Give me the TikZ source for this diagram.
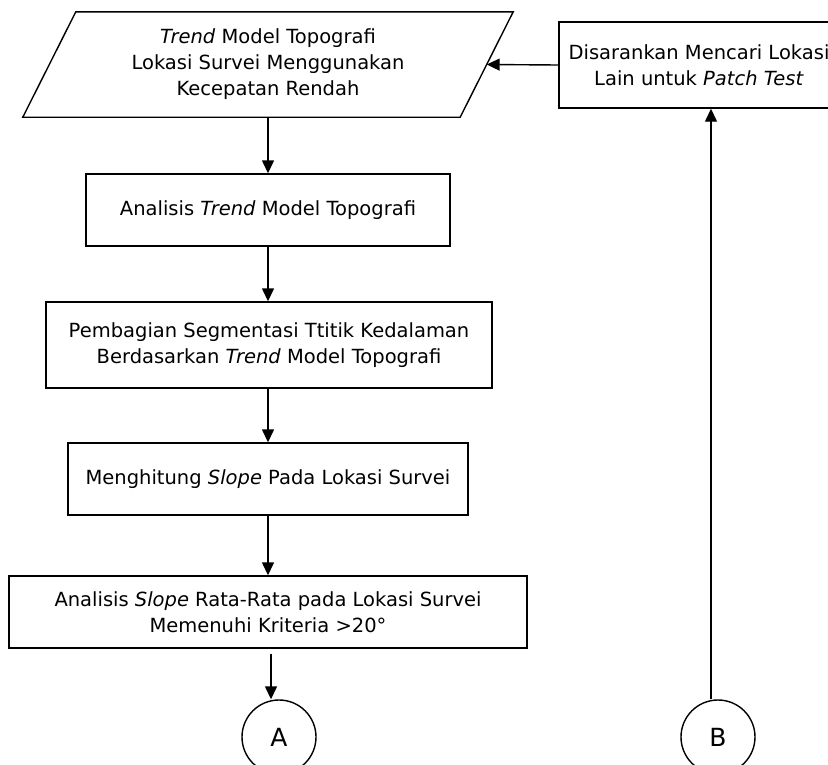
\documentclass[tikz,border=0pt]{standalone}
\usepackage{fontspec}
\setmainfont{DejaVu Sans}
\usetikzlibrary{arrows.meta,calc}
\tikzset{
  lw/.style={line width=1.4pt},
  txt/.style={font=\fontsize{19.5}{26}\selectfont, align=center, inner sep=0pt},
  box/.style={txt, draw, lw, rectangle},
  conn/.style={draw, circle, lw, minimum size=74pt, inner sep=0pt, font=\fontsize{25}{30}\selectfont},
  arr/.style={lw, -{Triangle[length=13pt,width=12pt]}}
}
\begin{document}
\begin{tikzpicture}[x=1pt,y=-1pt]
\useasboundingbox (0,0) rectangle (828,764);
% parallelogram (input/output)
\node[txt, minimum width=490pt, minimum height=105pt] (para) at (268,64.5)
  {\textit{Trend} Model Topografi\\Lokasi Survei Menggunakan\\Kecepatan Rendah};
\draw[lw] ([xshift=53pt]para.north west) -- (para.north east)
  -- ([xshift=-53pt]para.south east) -- (para.south west) -- cycle;
\node[box, minimum width=364pt, minimum height=72pt] (b2) at (268,210)
  {Analisis \textit{Trend} Model Topografi};
\node[box, minimum width=446pt, minimum height=86pt] (b3) at (269,345)
  {Pembagian Segmentasi Ttitik Kedalaman\\Berdasarkan \textit{Trend} Model Topografi};
\node[box, minimum width=400pt, minimum height=72pt] (b4) at (268,479)
  {Menghitung \textit{Slope} Pada Lokasi Survei};
\node[box, minimum width=518pt, minimum height=72pt] (b5) at (268,612)
  {Analisis \textit{Slope} Rata-Rata pada Lokasi Survei\\Memenuhi Kriteria >20°};
\node[conn] (A) at (279,737) {A};
\node[conn] (B) at (718,737) {B};
\node[box, minimum width=280pt, minimum height=86pt] (bB) at (699,65)
  {Disarankan Mencari Lokasi\\Lain untuk \textit{Patch Test}};
% connectors
\draw[arr] (para.south) -- (para.south |- b2.north);
\draw[arr] (b2.south) -- (b2.south |- b3.north);
\draw[arr] (b3.south -| b2.south) -- (b2.south |- b4.north);
\draw[arr] (b4.south) -- (b4.south |- b5.north);
\draw[arr] ([xshift=3pt,yshift=-5pt]b5.south) coordinate (s5) -- (s5 |- A.north);
\draw[arr] ([xshift=-7pt]B.north) coordinate (sB) -- (sB |- bB.south);
\draw[arr] (bB.west) -- ([xshift=-26.5pt]para.east);
\end{tikzpicture}
\end{document}
